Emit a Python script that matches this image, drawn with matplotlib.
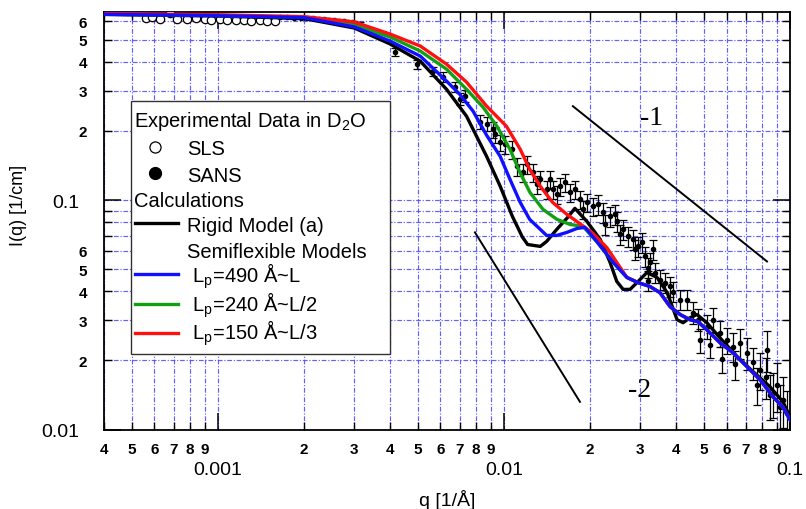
import numpy as np
import matplotlib.pyplot as plt
from matplotlib.patches import Rectangle
from matplotlib.lines import Line2D

plt.rcParams['font.family'] = ['Liberation Sans', 'DejaVu Sans']
plt.rcParams['mathtext.fontset'] = 'custom'
plt.rcParams['mathtext.rm'] = 'Liberation Sans'
plt.rcParams['mathtext.it'] = 'Liberation Sans:italic'

# SLS (open circles)
sls_q = [0.00056, 0.00059, 0.00063, 0.00068, 0.00072, 0.00078, 0.00084, 0.0009,
         0.00095, 0.00102, 0.00108, 0.00116, 0.00123, 0.00131, 0.0014, 0.00149, 0.00159]
sls_I = [0.622, 0.625, 0.617, 0.655, 0.618, 0.614, 0.62, 0.615,
         0.61, 0.613, 0.608, 0.611, 0.607, 0.605, 0.608, 0.604, 0.601]

# SANS (filled points with error bars)
sans_q = [0.00165, 0.00175, 0.00185, 0.00195, 0.00205, 0.00215, 0.00225, 0.00235,
          0.00245, 0.00255, 0.00265, 0.00275, 0.00285, 0.00295, 0.00305, 0.00315,
          0.00416, 0.00497, 0.00565, 0.00612, 0.00674, 0.00702, 0.0073, 0.00824,
          0.00872, 0.00915, 0.00968, 0.01008, 0.0111, 0.01165, 0.01263, 0.01336,
          0.01413, 0.01484, 0.0157, 0.01634, 0.01702, 0.01844, 0.0195, 0.02047,
          0.0222, 0.02348, 0.02484, 0.02606, 0.02714, 0.02825, 0.02941, 0.03037,
          0.03112, 0.0318, 0.03239, 0.03373, 0.03512, 0.03656, 0.03806, 0.039,
          0.04125, 0.04365, 0.04581, 0.04766, 0.0483, 0.0512, 0.0526, 0.0538,
          0.0569, 0.058, 0.0602, 0.0632, 0.0641, 0.0669, 0.0707, 0.0742,
          0.0766, 0.0785, 0.0825, 0.0831, 0.0851, 0.0872, 0.0898, 0.0923,
          0.0945, 0.0976,
          0.0093, 0.01067, 0.01204, 0.01305, 0.01448, 0.01532, 0.0177, 0.01889,
          0.02132, 0.02254, 0.02444, 0.02544, 0.02871, 0.03188, 0.0332]
sans_I = [0.628, 0.626, 0.624, 0.623, 0.62, 0.619, 0.616, 0.614,
          0.611, 0.609, 0.605, 0.602, 0.598, 0.595, 0.591, 0.586,
          0.44, 0.391, 0.365, 0.343, 0.31, 0.275, 0.284, 0.2185,
          0.214, 0.2036, 0.1786, 0.175, 0.1404, 0.1321, 0.1321, 0.1231,
          0.1113, 0.1113, 0.1148, 0.1195, 0.108, 0.1007, 0.0977, 0.0939,
          0.0884, 0.0849, 0.0807, 0.0745, 0.0694, 0.0674, 0.0628, 0.0654,
          0.0568, 0.0445, 0.0535, 0.0483, 0.045, 0.0437, 0.042, 0.0399,
          0.0368, 0.0368, 0.0323, 0.0301, 0.0246, 0.0281, 0.0234, 0.0301,
          0.0264, 0.0202, 0.0246, 0.023, 0.0192, 0.0239, 0.0216, 0.0196,
          0.01567, 0.0182, 0.017, 0.0223, 0.01417, 0.01446, 0.01567, 0.01256,
          0.01349, 0.01183,
          0.1936, 0.1665, 0.1432, 0.1171, 0.1231, 0.1059, 0.1113, 0.0911,
          0.0958, 0.0783, 0.0866, 0.0708, 0.0609, 0.0508, 0.0609]
sans_rel = [0.012, 0.012, 0.012, 0.012, 0.012, 0.012, 0.012, 0.012,
            0.012, 0.012, 0.012, 0.012, 0.012, 0.012, 0.015, 0.015,
            0.04, 0.045, 0.045, 0.05, 0.05, 0.06, 0.06, 0.07,
            0.07, 0.08, 0.08, 0.09, 0.09, 0.09, 0.09, 0.09,
            0.09, 0.09, 0.09, 0.09, 0.09, 0.09, 0.09, 0.09,
            0.1, 0.1, 0.1, 0.1, 0.1, 0.1, 0.1, 0.1,
            0.1, 0.1, 0.1, 0.1, 0.1, 0.1, 0.1, 0.1,
            0.1, 0.1, 0.11, 0.11, 0.12, 0.12, 0.12, 0.12,
            0.13, 0.13, 0.13, 0.14, 0.14, 0.15, 0.16, 0.16,
            0.18, 0.18, 0.2, 0.2, 0.22, 0.22, 0.24, 0.24,
            0.25, 0.25,
            0.08, 0.09, 0.09, 0.09, 0.09, 0.09, 0.09, 0.09,
            0.1, 0.1, 0.1, 0.1, 0.1, 0.1, 0.1]

# model calculations
rigid_q = [0.0004, 0.001, 0.002, 0.003, 0.004, 0.0051, 0.0063, 0.0074, 0.0087, 0.0097,
           0.0107, 0.0116, 0.0121, 0.0134, 0.0141, 0.0153, 0.0167, 0.0177, 0.0195, 0.0217,
           0.0235, 0.0248, 0.0261, 0.0276, 0.0292, 0.0316, 0.0343, 0.0372, 0.0403, 0.0423,
           0.0447, 0.0473, 0.0512, 0.0569, 0.0653, 0.0742, 0.0851, 0.0945, 0.1]
rigid_I = [0.644, 0.634, 0.618, 0.562, 0.479, 0.403, 0.304, 0.232, 0.155, 0.115,
           0.085, 0.069, 0.064, 0.0628, 0.066, 0.0745, 0.084, 0.092, 0.0807, 0.0674,
           0.0535, 0.0442, 0.0408, 0.0408, 0.0437, 0.0483, 0.046, 0.0395, 0.0301, 0.0292,
           0.0307, 0.0317, 0.0292, 0.0251, 0.0208, 0.0179, 0.01535, 0.0132, 0.01136]

tail_q = [0.0211, 0.0241, 0.0269, 0.0294, 0.0324, 0.0351, 0.0381, 0.0413, 0.0447, 0.0477,
          0.0512, 0.0569, 0.0632, 0.0707, 0.0785, 0.0872, 0.0945, 0.1]
tail_I = [0.066, 0.0535, 0.046, 0.0437, 0.042, 0.0395, 0.0343, 0.0317, 0.0301, 0.0295,
          0.0272, 0.0239, 0.0216, 0.0188, 0.0165, 0.0139, 0.0125, 0.01103]

lp490_q = [0.0004, 0.001, 0.002, 0.003, 0.004, 0.0051, 0.0063, 0.007, 0.0078, 0.0087,
           0.0097, 0.0105, 0.0114, 0.0123, 0.0134, 0.0141, 0.0153, 0.0166, 0.018, 0.0192] + tail_q
lp490_I = [0.645, 0.636, 0.624, 0.568, 0.493, 0.424, 0.33, 0.2895, 0.244, 0.1916,
           0.1551, 0.1231, 0.0977, 0.0824, 0.0745, 0.0701, 0.0701, 0.0723, 0.0752, 0.076] + tail_I

lp240_q = [0.0004, 0.001, 0.002, 0.003, 0.004, 0.0051, 0.0063, 0.0074, 0.00845, 0.00945,
           0.0105, 0.01137, 0.01233, 0.01369, 0.01532, 0.01702, 0.01889] + tail_q
lp240_I = [0.646, 0.638, 0.626, 0.579, 0.5135, 0.446, 0.372, 0.304, 0.254, 0.2098,
           0.1665, 0.1321, 0.108, 0.0911, 0.0824, 0.0783, 0.0768] + tail_I

lp150_q = [0.0004, 0.001, 0.002, 0.003, 0.004, 0.0051, 0.0063, 0.0074, 0.0087, 0.0102,
           0.0114, 0.0123, 0.0134, 0.0148, 0.0166, 0.0184, 0.0205, 0.0229, 0.0248] + tail_q[2:]
lp150_I = [0.65, 0.642, 0.63, 0.597, 0.529, 0.469, 0.391, 0.3266, 0.2566, 0.2098,
           0.1665, 0.1362, 0.1148, 0.0977, 0.0866, 0.079, 0.0715, 0.062, 0.0535] + tail_I[2:]

# power-law guide lines
slope1_q = [0.01742, 0.0831]
slope1_I = [0.2565, 0.054]
slope2_q = [0.00792, 0.01844]
slope2_I = [0.0723, 0.0132]

fig = plt.figure(figsize=(8.06, 5.10), dpi=100)
ax = fig.add_axes([104 / 806, 1 - 430.5 / 510, 686 / 806, 417.5 / 510])
ax.set_xscale('log')
ax.set_yscale('log')

ax.plot(sls_q, sls_I, 'o', mfc='white', mec='black', ms=6, mew=0.9, zorder=3)
ax.errorbar(sans_q, sans_I, yerr=np.array(sans_I) * np.array(sans_rel), fmt='o', ms=3,
            color='black', elinewidth=0.9, capsize=3, capthick=0.9, zorder=3)

ax.plot(rigid_q, rigid_I, color='black', lw=2.4, zorder=4)
ax.plot(lp240_q, lp240_I, color='#12a012', lw=2.4, zorder=5)
ax.plot(lp150_q, lp150_I, color='#ff1010', lw=2.4, zorder=6)
ax.plot(lp490_q, lp490_I, color='#1010ff', lw=2.4, zorder=7)

ax.plot(slope1_q, slope1_I, color='black', lw=1.4, zorder=4)
ax.plot(slope2_q, slope2_I, color='black', lw=1.4, zorder=4)
ax.text(0.0329, 0.2297, '-1', family='Liberation Serif', fontsize=20, ha='center', va='center')
ax.text(0.0299, 0.0149, '-2', family='Liberation Serif', fontsize=20, ha='center', va='center')

ax.set_xlim(4e-4, 0.1)
ax.set_ylim(0.01, 0.66)

ax.tick_params(which='both', direction='in', top=True, right=True, colors='black')
ax.tick_params(which='major', length=12, width=1.1, labelsize=14)
ax.tick_params(which='minor', length=6, width=1.0)
ax.tick_params(axis='x', which='major', pad=23)
ax.tick_params(axis='x', which='minor', pad=9)
ax.tick_params(axis='y', which='major', pad=17.5)
ax.tick_params(axis='y', which='minor', pad=12)

ax.set_xticks([1e-3, 1e-2, 1e-1], labels=['0.001', '0.01', '0.1'])
xminor = [m * d for d in (1e-4, 1e-3, 1e-2) for m in range(2, 10) if m * d > 3.5e-4]
xminor_lab = [str(m) for d in (1e-4, 1e-3, 1e-2) for m in range(2, 10) if m * d > 3.5e-4]
ax.set_xticks(xminor, labels=xminor_lab, minor=True, fontsize=11, fontweight='bold')

ax.set_yticks([0.01, 0.1], labels=['0.01', '0.1'])
yminor = [m * d for d in (0.01, 0.1) for m in range(2, 10) if m * d < 0.66]
yminor_lab = [str(m) if m <= 6 else '' for d in (0.01, 0.1) for m in range(2, 10) if m * d < 0.66]
ax.set_yticks(yminor, labels=yminor_lab, minor=True, fontsize=11, fontweight='bold')

ax.grid(True, which='both', color='#5050ff', linestyle=(0, (4, 1.5, 1, 1.5)), linewidth=0.85, alpha=0.9)
ax.set_axisbelow(True)
for s in ax.spines.values():
    s.set_linewidth(1.3)

ax.set_xlabel('q [1/Å]', fontsize=14)
ax.set_ylabel('I(q) [1/cm]', fontsize=13)
ax.xaxis.set_label_coords(0.5, -0.142)
ax.yaxis.set_label_coords(-0.112, 0.538)

# legend box, drawn by hand to keep the header rows flush left
tr = ax.transAxes
ax.add_patch(Rectangle((0.0394, 0.1808), 0.3775, 0.606, transform=tr, facecolor='white',
                       edgecolor='#333333', lw=1.0, zorder=20))
fs = 14.5
ax.text(0.0437, 0.7269, 'Experimental Data in D$_2$O', transform=tr, fontsize=fs, zorder=21)
ax.add_line(Line2D([0.0743], [0.6766], marker='o', ms=8, mfc='white', mec='black', mew=0.9,
                   transform=tr, zorder=21))
ax.text(0.121, 0.6599, 'SLS', transform=tr, fontsize=fs, zorder=21)
ax.add_line(Line2D([0.0743], [0.6144], marker='o', ms=8.5, color='black', transform=tr, zorder=21))
ax.text(0.121, 0.5952, 'SANS', transform=tr, fontsize=fs, zorder=21)
ax.text(0.0437, 0.5353, 'Calculations', transform=tr, fontsize=fs, zorder=21)
ax.add_line(Line2D([0.0452, 0.1079], [0.4946, 0.4946], color='black', lw=2.4, transform=tr, zorder=21))
ax.text(0.121, 0.4754, 'Rigid Model (a)', transform=tr, fontsize=fs, zorder=21)
ax.text(0.121, 0.4132, 'Semiflexible Models', transform=tr, fontsize=fs, zorder=21)
for y_line, y_txt, col, lab in [(0.3725, 0.3533, '#1010ff', r' L$_\mathrm{p}$=490 Å~L'),
                                (0.3006, 0.2838, '#12a012', r' L$_\mathrm{p}$=240 Å~L/2'),
                                (0.2311, 0.2168, '#ff1010', r' L$_\mathrm{p}$=150 Å~L/3')]:
    ax.add_line(Line2D([0.0452, 0.1079], [y_line, y_line], color=col, lw=2.4, transform=tr, zorder=21))
    ax.text(0.121, y_txt, lab, transform=tr, fontsize=fs, zorder=21)

fig.savefig('out.png', dpi=100)
